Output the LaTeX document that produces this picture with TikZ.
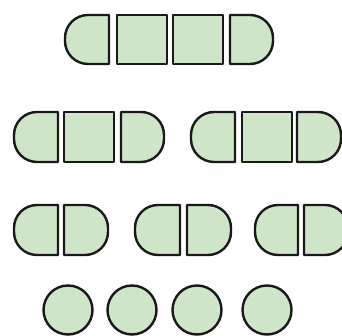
\documentclass[tikz,border=0pt]{standalone}
\definecolor{pieceGreen}{RGB}{206,229,200}
\tikzset{
  piece/.style={draw=black!90, fill=pieceGreen, line width=2.4pt, line join=round},
}
\newcommand{\pr}{23}
% left-rounded piece: #1 = x left, #2 = x right, #3 = y bottom, #4 = y top
\newcommand{\lpiece}[4]{%
  \draw[piece] (#2,#3) -- (#2,#4) -- ({#1+\pr},#4)
    arc[start angle=90,end angle=180,radius=\pr] -- (#1,{#3+\pr})
    arc[start angle=180,end angle=270,radius=\pr] -- cycle;}
% right-rounded piece
\newcommand{\rpiece}[4]{%
  \draw[piece] (#1,#4) -- (#1,#3) -- ({#2-\pr},#3)
    arc[start angle=-90,end angle=0,radius=\pr] -- (#2,{#4-\pr})
    arc[start angle=0,end angle=90,radius=\pr] -- cycle;}
% square piece
\newcommand{\spiece}[4]{%
  \draw[piece] (#1,#3) rectangle (#2,#4);}
\begin{document}
\begin{tikzpicture}[x=1pt,y=1pt]
  \clip (0,0) rectangle (342,336);
  \fill[white] (0,0) rectangle (342,336);
  % row 1
  \lpiece{65}{109}{272}{321}
  \spiece{117}{167}{272}{321}
  \spiece{173}{223}{272}{321}
  \rpiece{230}{273}{272}{321}
  % row 2
  \lpiece{14}{58}{174}{224}
  \spiece{64}{114}{174}{224}
  \rpiece{121}{164}{174}{224}
  \lpiece{191}{235}{174}{224}
  \spiece{242}{292}{174}{224}
  \rpiece{297}{341}{174}{224}
  % row 3
  \lpiece{14}{58}{81}{131}
  \rpiece{64}{108}{81}{131}
  \lpiece{135}{180}{81}{131}
  \rpiece{187}{231}{81}{131}
  \lpiece{255}{298}{81}{131}
  \rpiece{304}{348}{81}{131}
  % row 4
  \draw[piece] (68,26) circle[radius=24.5];
  \draw[piece] (132,26) circle[radius=24.5];
  \draw[piece] (197,26) circle[radius=24.5];
  \draw[piece] (267,26) circle[radius=24.5];
\end{tikzpicture}
\end{document}
